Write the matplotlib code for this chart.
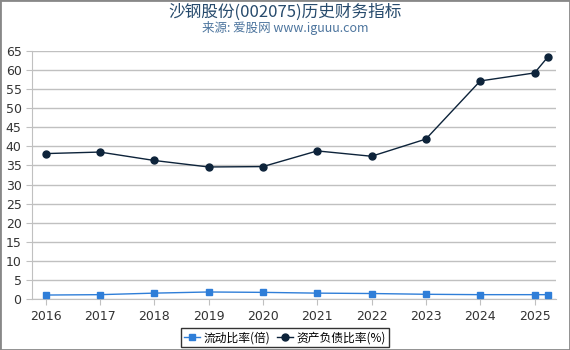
import matplotlib
matplotlib.use("Agg")
import matplotlib.pyplot as plt
from matplotlib.patches import Rectangle

plt.rcParams['font.family'] = ['Noto Sans CJK SC', 'DejaVu Sans']

# data
x_pos = [2016, 2017, 2018, 2019, 2020, 2021, 2022, 2023, 2024, 2025, 2025.24]
year_ticks = [2016, 2017, 2018, 2019, 2020, 2021, 2022, 2023, 2024, 2025]
current_ratio = [1.1, 1.2, 1.6, 1.9, 1.8, 1.6, 1.5, 1.3, 1.2, 1.2, 1.2]
debt_ratio = [38.1, 38.5, 36.3, 34.6, 34.7, 38.8, 37.4, 41.9, 57.1, 59.2, 63.3]

fig = plt.figure(figsize=(5.7, 3.5), dpi=100)
ax = fig.add_axes([0.056, 0.145, 0.92, 0.71])

ax.plot(x_pos, current_ratio, color='#2f7ed8', marker='s', markersize=5,
        linewidth=1, label='流动比率(倍)', zorder=3)
ax.plot(x_pos, debt_ratio, color='#0d233a', marker='o', markersize=5,
        linewidth=1, label='资产负债比率(%)', zorder=3)

ax.set_ylim(0, 65)
ax.set_yticks(range(0, 66, 5))
ax.set_xlim(2015.75, 2025.4)
ax.set_xticks(year_ticks)
ax.grid(axis='y', color='#c0c0c0', linewidth=1)
ax.set_axisbelow(True)
for s in ['top', 'right']:
    ax.spines[s].set_visible(False)
ax.spines['left'].set_color('#c0c0c0')
ax.spines['bottom'].set_color('#c0c0c0')
ax.tick_params(axis='both', colors='#c0c0c0', labelcolor='#333333', labelsize=9, length=4)
for lbl in ax.get_xticklabels() + ax.get_yticklabels():
    lbl.set_family('DejaVu Sans')

fig.text(0.5, 0.965, '沙钢股份(002075)历史财务指标', ha='center', va='center',
         fontsize=12, color='#274b6d')
fig.text(0.5, 0.92, '来源: 爱股网 www.iguuu.com', ha='center', va='center',
         fontsize=9, color='#4d759e')

leg = fig.legend(loc='center', bbox_to_anchor=(0.5, 0.035), ncol=2, fontsize=8.5,
                 frameon=True, fancybox=False, edgecolor='black',
                 handlelength=1.4, handletextpad=0.3, columnspacing=0.5,
                 borderpad=0.25)
leg.get_frame().set_linewidth(1)

fig.patches.append(Rectangle((0, 0), 1, 1, transform=fig.transFigure,
                             fill=False, edgecolor='#888888', linewidth=2))

fig.savefig('out.png', dpi=100)
